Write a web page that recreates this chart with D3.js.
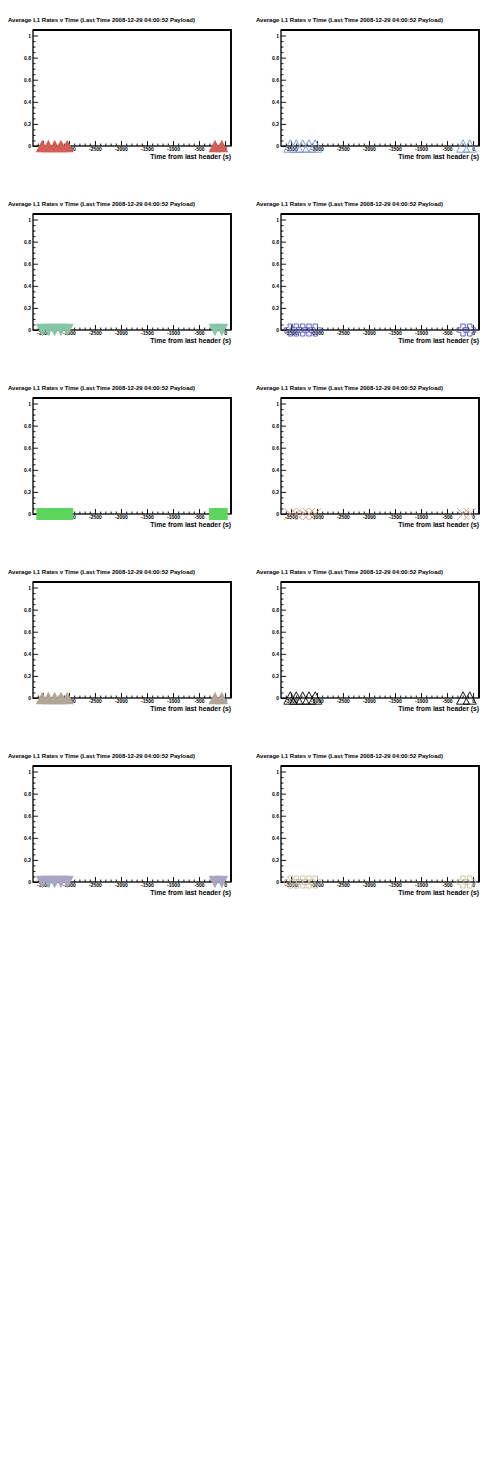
<!DOCTYPE html>
<html>
<head>
<meta charset="utf-8">
<script src="https://cdn.jsdelivr.net/npm/d3@7"></script>
<style>
  body { margin: 0; background: #fff; }
  svg { display: block; font-family: "Liberation Sans", Arial, Helvetica, sans-serif; }
</style>
</head>
<body>
<div id="chart"></div>
<script>
var svgWidth = 496;
var svgHeight = 1472;

// data (seconds before last header, average L1 rate)
var timeValues = [-3513, -3398, -3275, -3154, -3033, -192, -63];
var rateValues = [0, 0, 0, 0, 0, 0, 0];

var panelTitles = [
  "Average L1 Rates v Time (Last Time 2008-12-29 04:00:52 Payload)",
  "Average L1 Rates v Time (Last Time 2008-12-29 04:00:52 Payload)",
  "Average L1 Rates v Time (Last Time 2008-12-29 04:00:52 Payload)",
  "Average L1 Rates v Time (Last Time 2008-12-29 04:00:52 Payload)",
  "Average L1 Rates v Time (Last Time 2008-12-29 04:00:52 Payload)",
  "Average L1 Rates v Time (Last Time 2008-12-29 04:00:52 Payload)",
  "Average L1 Rates v Time (Last Time 2008-12-29 04:00:52 Payload)",
  "Average L1 Rates v Time (Last Time 2008-12-29 04:00:52 Payload)",
  "Average L1 Rates v Time (Last Time 2008-12-29 04:00:52 Payload)",
  "Average L1 Rates v Time (Last Time 2008-12-29 04:00:52 Payload)"
];
var panelMarkers = ["triUpFill", "triUpOpen", "triDownFill", "crossOpen", "squareFill",
                    "xOpen", "triUpFill", "triUpOpen", "triDownFill", "crossOpen"];
var panelColors = ["#d35e56", "#7192d6", "#86c6a6", "#5454d0", "#5cd65c",
                   "#c89c80", "#b2a696", "#000000", "#a8a6c2", "#c8c0a0"];

var xTickValues = [-3500, -3000, -2500, -2000, -1500, -1000, -500, 0];
var yTickValues = [0, 0.2, 0.4, 0.6, 0.8, 1];
var xAxisTitle = "Time from last header (s)";

var panelW = 248, panelH = 184;
var frame = { left: 33, right: 231, top: 30, bottom: 146 };

var svg = d3.select("#chart")
  .append("svg")
  .attr("width", svgWidth)
  .attr("height", svgHeight);

svg.append("rect")
  .attr("width", svgWidth)
  .attr("height", svgHeight)
  .attr("fill", "#fff");

var xScale = d3.scaleLinear()
  .domain([-3692, 115])
  .range([frame.left, frame.right]);

var yScale = d3.scaleLinear()
  .domain([0, 1.05])
  .range([frame.bottom, frame.top]);

// minor ticks
var xMinor = d3.range(-3600, 101, 100).filter(v => xTickValues.indexOf(v) < 0);
var yMinor = d3.range(0, 1.051, 0.05).map(v => +v.toFixed(2)).filter(v => yTickValues.indexOf(v) < 0);

function markerPath(kind) {
  var w = 6.5, h = 6.2;
  if (kind == "triUpFill" || kind == "triUpOpen")
    return `M${-w},${h}L0,${-h}L${w},${h}Z`;
  if (kind == "triDownFill")
    return `M${-w},${-h}L0,${h}L${w},${-h}Z`;
  if (kind == "squareFill")
    return `M${-6},${-6}H6V6H-6Z`;
  if (kind == "crossOpen") {
    var a = 6, b = 2.2;
    return `M${-b},${-a}H${b}V${-b}H${a}V${b}H${b}V${a}H${-b}V${b}H${-a}V${-b}H${-b}Z`;
  }
  if (kind == "xOpen")
    return "M-6,-6L6,6M-6,6L6,-6";
  return "";
}

panelTitles.forEach(function(title, i) {
  var col = i % 2, row = Math.floor(i / 2);
  var g = svg.append("g")
    .attr("transform", `translate(${col * panelW}, ${row * panelH})`);

  g.append("text")
    .attr("x", 8)
    .attr("y", 22)
    .attr("font-size", 6)
    .attr("font-weight", "bold")
    .text(title);

  // x axis, ticks pointing inside the frame
  g.append("g")
    .attr("transform", `translate(0, ${frame.bottom})`)
    .call(d3.axisBottom(xScale).tickValues(xTickValues).tickSize(-5).tickPadding(1.5)
      .tickFormat(d => String(d)));
  g.append("g")
    .attr("transform", `translate(0, ${frame.bottom})`)
    .call(d3.axisBottom(xScale).tickValues(xMinor).tickSize(-2.5).tickFormat(""));

  g.append("g")
    .attr("transform", `translate(${frame.left}, 0)`)
    .call(d3.axisLeft(yScale).tickValues(yTickValues).tickSize(-5).tickPadding(2)
      .tickFormat(d => d == 0 ? "0" : d == 1 ? "1" : d3.format(".1f")(d)));
  g.append("g")
    .attr("transform", `translate(${frame.left}, 0)`)
    .call(d3.axisLeft(yScale).tickValues(yMinor).tickSize(-2.5).tickFormat(""));

  g.selectAll(".domain").remove();
  g.selectAll(".tick line").attr("stroke", "#000").attr("stroke-width", 0.9);
  g.selectAll(".tick text")
    .attr("font-size", 5)
    .attr("font-weight", "bold")
    .attr("font-family", "'Liberation Sans', Arial, sans-serif")
    .attr("fill", "#000");

  // frame
  g.append("rect")
    .attr("x", frame.left)
    .attr("y", frame.top)
    .attr("width", frame.right - frame.left)
    .attr("height", frame.bottom - frame.top)
    .attr("fill", "none")
    .attr("stroke", "#000")
    .attr("stroke-width", 1.3);
  g.append("path")
    .attr("d", `M${frame.left},${frame.top}H${frame.right}V${frame.bottom}`)
    .attr("fill", "none")
    .attr("stroke", "#000")
    .attr("stroke-width", 1.8);

  // markers
  var kind = panelMarkers[i];
  var filled = kind.indexOf("Fill") > 0;
  g.selectAll("path.marker")
    .data(timeValues)
    .enter()
    .append("path")
    .attr("class", "marker")
    .attr("transform", (d, j) => `translate(${xScale(d)}, ${yScale(rateValues[j])})`)
    .attr("d", markerPath(kind))
    .attr("fill", filled ? panelColors[i] : "none")
    .attr("stroke", filled ? "none" : panelColors[i])
    .attr("stroke-width", 0.9);

  g.append("text")
    .attr("x", frame.right)
    .attr("y", 159)
    .attr("text-anchor", "end")
    .attr("font-size", 6.8)
    .attr("font-weight", "bold")
    .text(xAxisTitle);
});
</script>
</body>
</html>
